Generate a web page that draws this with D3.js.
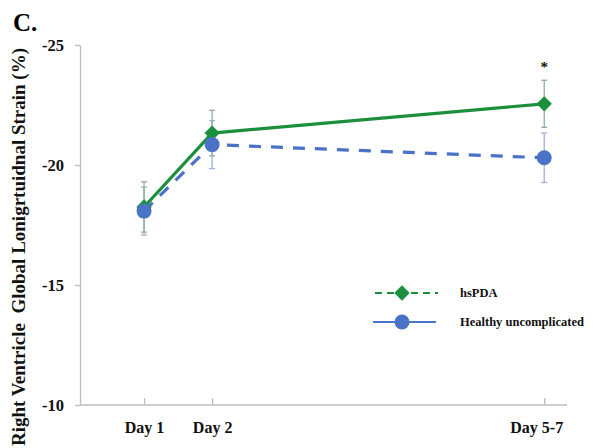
<!DOCTYPE html>
<html>
<head>
<meta charset="utf-8">
<script src="https://cdn.jsdelivr.net/npm/d3@7"></script>
<style>
  html, body { margin: 0; padding: 0; background: #fff; }
  svg { display: block; }
  text { font-family: "Liberation Serif", "Times New Roman", serif; font-weight: bold; }
</style>
</head>
<body>
<svg id="chart" width="603" height="448"></svg>
<script>
// ---- data ----
const categories = ["Day 1", "Day 2", "Day 5-7"];
const dayPositions = [1, 2, 6.88];
const hsPDA = [-18.25, -21.33, -22.55];
const hsPDAErr = [1.05, 0.95, 0.98];
const healthy = [-18.08, -20.85, -20.3];
const healthyErr = [1.0, 1.0, 1.03];
const yTicks = [-25, -20, -15, -10];
const yTickLabels = ["-25", "-20", "-15", "-10"];
const seriesNames = ["hsPDA", "Healthy uncomplicated"];
const yTitle = "Right Ventricle  Global Lonigrtuidnal Strain (%)";
const panelLabel = "C.";
const sigMark = "*";

const green = "#1c8f3c";
const blue = "#4a72c6";
const greenErr = "#8fae93";
const blueErr = "#9fb0df";
const axisCol = "#bdbdbd";

const svg = d3.select("#chart");
const x = d3.scaleLinear().domain([0, 7.2]).range([76, 566]);
const y = d3.scaleLinear().domain([-10, -25]).range([405, 45]);

// panel label
svg.append("text").attr("x", 13).attr("y", 31).attr("font-size", 25).text(panelLabel);

// y axis
const yAxis = svg.append("g").attr("transform", "translate(80,0)")
  .call(d3.axisLeft(y).tickValues(yTicks).tickFormat((d, i) => yTickLabels[i]).tickSizeInner(5).tickSizeOuter(0).tickPadding(4));
yAxis.select(".domain").attr("stroke", axisCol).attr("stroke-width", 1.3);
yAxis.selectAll(".tick line").attr("stroke", axisCol).attr("stroke-width", 1.3);
yAxis.selectAll(".tick text").attr("font-size", 16.5).attr("fill", "#111")
  .attr("font-family", "Liberation Serif, serif").attr("font-weight", "bold")
  .attr("dy", "0.35em").attr("x", -16);

// x axis
const xAxis = svg.append("g").attr("transform", "translate(0,405)")
  .call(d3.axisBottom(x).tickValues(dayPositions).tickFormat((d, i) => categories[i]).tickSizeInner(-7).tickSizeOuter(0).tickPadding(17));
xAxis.select(".domain").remove();
xAxis.insert("line", ":first-child").attr("x1", 80).attr("x2", 567).attr("y1", 0).attr("y2", 0)
  .attr("stroke", axisCol).attr("stroke-width", 1.3);
xAxis.selectAll(".tick line").attr("stroke", axisCol).attr("stroke-width", 1.3);
xAxis.selectAll(".tick text").attr("font-size", 16).attr("fill", "#111")
  .attr("font-family", "Liberation Serif, serif").attr("font-weight", "bold")
  .attr("dx", (d, i) => i === 2 ? -8 : 0);

// y title
svg.append("text")
  .attr("transform", "translate(25,247) rotate(-90)")
  .attr("text-anchor", "middle")
  .attr("font-size", 19)
  .attr("fill", "#111")
  .style("white-space", "pre")
  .attr("xml:space", "preserve")
  .text(yTitle);

const pts = (vals) => vals.map((v, i) => [x(dayPositions[i]), y(v)]);
const line = d3.line();

function errorBars(vals, errs, col) {
  const g = svg.append("g").attr("stroke", col).attr("stroke-width", 1.3);
  vals.forEach((v, i) => {
    const cx = x(dayPositions[i]);
    g.append("line").attr("x1", cx).attr("x2", cx).attr("y1", y(v - errs[i])).attr("y2", y(v + errs[i]));
    [v - errs[i], v + errs[i]].forEach(e => {
      g.append("line").attr("x1", cx - 3).attr("x2", cx + 3).attr("y1", y(e)).attr("y2", y(e));
    });
  });
}

// healthy (blue dashed)
errorBars(healthy, healthyErr, blueErr);
svg.append("path").attr("d", line(pts(healthy))).attr("fill", "none")
  .attr("stroke", blue).attr("stroke-width", 3.2).attr("stroke-dasharray", "12,10");

// hsPDA (green solid)
errorBars(hsPDA, hsPDAErr, greenErr);
svg.append("path").attr("d", line(pts(hsPDA))).attr("fill", "none")
  .attr("stroke", green).attr("stroke-width", 3.2);

const diamond = d3.symbol().type(d3.symbolDiamond2).size(150);
svg.append("g").selectAll("path").data(pts(hsPDA)).join("path")
  .attr("d", diamond).attr("transform", d => `translate(${d[0]},${d[1]})`).attr("fill", green);

svg.append("g").selectAll("circle").data(pts(healthy)).join("circle")
  .attr("cx", d => d[0]).attr("cy", d => d[1]).attr("r", 7.5).attr("fill", blue);

// significance star
svg.append("text").attr("x", x(dayPositions[2])).attr("y", 72).attr("text-anchor", "middle")
  .attr("font-size", 15).attr("font-weight", "normal").attr("fill", "#111").text(sigMark);

// legend
const lg = svg.append("g");
lg.append("line").attr("x1", 375).attr("x2", 438).attr("y1", 293).attr("y2", 293)
  .attr("stroke", green).attr("stroke-width", 2.2).attr("stroke-dasharray", "7,5");
lg.append("path").attr("d", diamond).attr("transform", "translate(402,293)").attr("fill", green);
lg.append("text").attr("x", 460).attr("y", 297).attr("font-size", 12.5).attr("fill", "#111").text(seriesNames[0]);
lg.append("line").attr("x1", 373).attr("x2", 436).attr("y1", 322).attr("y2", 322)
  .attr("stroke", blue).attr("stroke-width", 2.2);
lg.append("circle").attr("cx", 402).attr("cy", 322).attr("r", 7.5).attr("fill", blue);
lg.append("text").attr("x", 460).attr("y", 326).attr("font-size", 12.5).attr("fill", "#111").text(seriesNames[1]);
</script>
</body>
</html>
